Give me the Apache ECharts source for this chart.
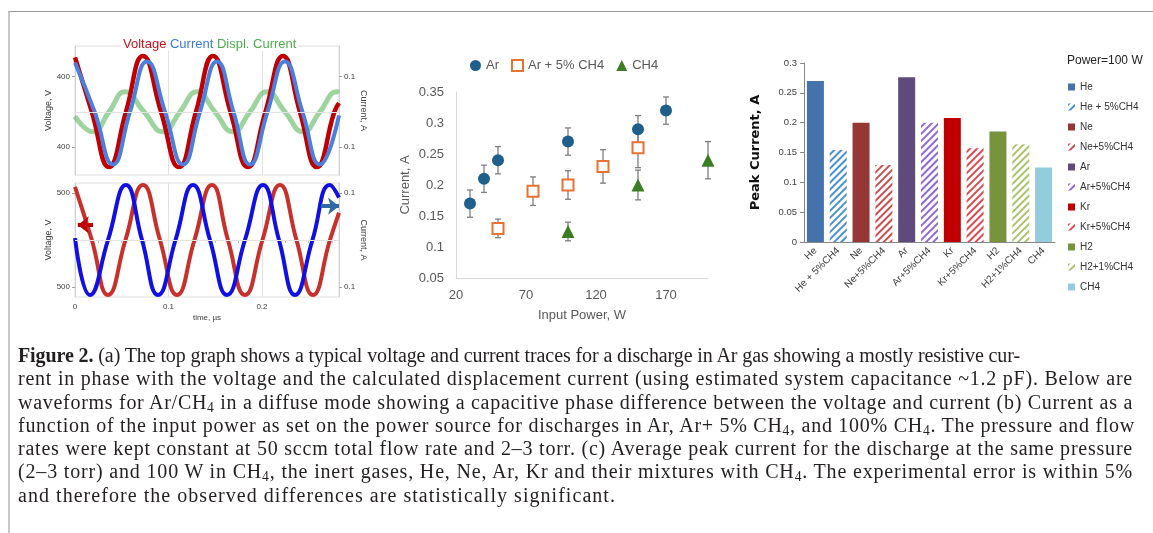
<!DOCTYPE html>
<html>
<head>
<meta charset="utf-8">
<title>Figure 2</title>
<script src="https://cdn.jsdelivr.net/npm/echarts@6.0.0/dist/echarts.min.js"></script>
<style>
html, body { margin: 0; padding: 0; background: #fff; }
#page { position: relative; width: 1153px; height: 533px; overflow: hidden; }
#chart { position: absolute; left: 0; top: 0; width: 1153px; height: 340px; }
#frame { position: absolute; left: 8px; top: 11px; width: 1145px; height: 522px; border-top: 1px solid #9a9a9a; border-left: 2px solid #c8c8c8; box-sizing: border-box; pointer-events: none; }
#caption { position: absolute; left: 18px; top: 344px; font-family: 'Liberation Serif', 'DejaVu Serif', serif; font-size: 20px; line-height: 23.3px; color: #231f20; }
#caption div { white-space: nowrap; }
#caption sub { font-size: 0.68em; vertical-align: -0.25em; line-height: 0; }
</style>
</head>
<body>
<div id="page">
  <div id="chart"></div>
  <div id="frame"></div>
  <div id="caption">
    <div data-w="1002"><span><b>Figure 2.</b> (a) The top graph shows a typical voltage and current traces for a discharge in Ar gas showing a mostly resistive cur-</span></div>
    <div data-w="1115"><span>rent in phase with the voltage and the calculated displacement current (using estimated system capacitance ~1.2 pF). Below are</span></div>
    <div data-w="1115"><span>waveforms for Ar/CH<sub>4</sub> in a diffuse mode showing a capacitive phase difference between the voltage and current (b) Current as a</span></div>
    <div data-w="1117"><span>function of the input power as set on the power source for discharges in Ar, Ar+ 5% CH<sub>4</sub>, and 100% CH<sub>4</sub>. The pressure and flow</span></div>
    <div data-w="1115"><span>rates were kept constant at 50 sccm total flow rate and 2–3 torr. (c) Average peak current for the discharge at the same pressure</span></div>
    <div data-w="1115"><span>(2–3 torr) and 100 W in CH<sub>4</sub>, the inert gases, He, Ne, Ar, Kr and their mixtures with CH<sub>4</sub>. The experimental error is within 5%</span></div>
    <div data-w="598"><span>and therefore the observed differences are statistically significant.</span></div>
  </div>
</div>
<script>
var argonVoltage = [[0, 620], [0.018, 0], [0.0364, -630], [0.0545, 0], [0.0727, 635], [0.092, 0], [0.1112, -630],
    [0.1294, 0], [0.1476, 635], [0.1663, 0], [0.185, -630], [0.2037, 0], [0.2225, 635], [0.2406, 0],
    [0.2588, -630], [0.2775, 0], [0.2824, 100]];
var argonCurrent = [[0, 0.14], [0.021, 0], [0.0406, -0.15], [0.0588, 0], [0.077, 0.143], [0.0963, 0], [0.1155, -0.15],
    [0.1337, 0], [0.1519, 0.143], [0.1695, 0], [0.1872, -0.15], [0.2059, 0], [0.2246, 0.143], [0.2433, 0],
    [0.262, -0.15], [0.2824, -0.01]];
var argonDisplCurrent = [[0, -0.013], [0.0193, -0.057], [0.0364, 0], [0.0535, 0.057], [0.0738, 0], [0.0941, -0.057],
    [0.1123, 0], [0.1305, 0.057], [0.1497, 0], [0.169, -0.057], [0.1872, 0], [0.2053, 0.057], [0.2246, 0],
    [0.2439, -0.057], [0.262, 0], [0.2802, 0.057], [0.2824, 0.056]];
var mixVoltage = [[0, 564], [0.018, 0], [0.0353, -585], [0.054, 0], [0.0727, 585], [0.0909, 0], [0.1091, -585],
    [0.1278, 0], [0.1465, 585], [0.1636, 0], [0.1818, -585], [0.2005, 0], [0.2193, 585], [0.2369, 0],
    [0.2545, -585], [0.2727, 0], [0.2824, 290]];
var mixCurrent = [[0, 0.004], [0.016, -0.117], [0.0353, 0], [0.0545, 0.117], [0.0717, 0], [0.0888, -0.117],
    [0.1075, 0], [0.1262, 0.117], [0.1444, 0], [0.1626, -0.117], [0.1818, 0], [0.2011, 0.117], [0.2182, 0],
    [0.2353, -0.117], [0.254, 0], [0.2727, 0.117], [0.2824, 0.09]];

// (b) current vs input power
var arPower = [30, 40, 50, 100, 150, 170];
var arCurrent = [0.17, 0.21, 0.24, 0.27, 0.29, 0.32];
var arErr = [0.022, 0.022, 0.022, 0.022, 0.022, 0.022];
var mixPower = [50, 75, 100, 125, 150];
var mixPeak = [0.13, 0.19, 0.2, 0.23, 0.26];
var mixErr = [0.015, 0.023, 0.023, 0.027, 0.032];
var ch4Power = [100, 150, 200];
var ch4Current = [0.125, 0.2, 0.24];
var ch4Err = [0.015, 0.024, 0.03];

// (c) peak current at 100 W
var gasNames = ['He', 'He + 5%CH4', 'Ne', 'Ne+5%CH4', 'Ar', 'Ar+5%CH4', 'Kr', 'Kr+5%CH4', 'H2', 'H2+1%CH4', 'CH4'];
var peakCurrent = [0.27, 0.154, 0.2, 0.129, 0.276, 0.2, 0.208, 0.157, 0.185, 0.164, 0.125];

var gasColors = ['#4472aa', '#4a90d4', '#953735', '#c9504f', '#604a7b', '#9466d6', '#c00000', '#dd4a4f', '#77933c', '#a9c46a', '#93cddd'];
var gasHatched = [false, true, false, true, false, true, false, true, false, true, false];

var sans = 'Liberation Sans, Arial, sans-serif';
var gridGray = '#e2e2e2';

function absLabel(v) {
    return String(Math.abs(v));
}

function errorBar(params, api) {
    var x = api.value(0);
    var top = api.coord([x, api.value(2)]);
    var bot = api.coord([x, api.value(1)]);
    var st = {stroke: '#7f7f7f', lineWidth: 1.3};
    return {
        type: 'group',
        children: [
            {type: 'line', shape: {x1: top[0], y1: top[1], x2: bot[0], y2: bot[1]}, style: st},
            {type: 'line', shape: {x1: top[0] - 3, y1: top[1], x2: top[0] + 3, y2: top[1]}, style: st},
            {type: 'line', shape: {x1: bot[0] - 3, y1: bot[1], x2: bot[0] + 3, y2: bot[1]}, style: st}
        ]
    };
}

function errData(px, py, pe) {
    return px.map(function (p, i) { return [p, py[i] - pe[i], py[i] + pe[i]]; });
}

function waveYAxis(grid, pos, min, max, name, marks) {
    return {
        gridIndex: grid, type: 'value', position: pos, min: min, max: max,
        name: name, nameLocation: 'middle', nameGap: pos === 'left' ? 22 : 8,
        nameRotate: pos === 'left' ? 90 : -90,
        nameTextStyle: {fontFamily: sans, fontSize: 9, color: '#404040'},
        axisLine: {show: true, lineStyle: {color: '#d0d0d0'}},
        axisTick: {show: true, customValues: marks, length: 3, lineStyle: {color: '#a0a0a0'}},
        axisLabel: {customValues: marks, formatter: absLabel, fontFamily: sans, fontSize: 8, color: '#404040', margin: 5},
        splitLine: {show: false}
    };
}

function waveXAxis(grid, labels) {
    return {
        gridIndex: grid, type: 'value', min: 0, max: 0.2824, interval: 0.1,
        name: labels ? 'time, µs' : '', nameLocation: 'middle', nameGap: 17,
        nameTextStyle: {fontFamily: sans, fontSize: 8, color: '#404040'},
        axisLine: {lineStyle: {color: '#d0d0d0'}},
        axisTick: {show: false},
        minorTick: {show: labels, splitNumber: 4, length: 3, lineStyle: {color: '#c0c0c0'}},
        axisLabel: {show: labels, showMaxLabel: false, fontFamily: sans, fontSize: 8, color: '#404040', margin: 6},
        splitLine: {show: true, lineStyle: {color: gridGray}}
    };
}

var barSeries = gasNames.map(function (g, i) {
    var style = gasHatched[i] ? {
        color: '#fff',
        decal: {symbol: 'rect', symbolSize: 1, dashArrayX: [1, 0], dashArrayY: [2, 2.5], rotation: -Math.PI / 4, color: gasColors[i]}
    } : {color: gasColors[i]};
    return {
        type: 'bar', name: 'c-' + g, xAxisIndex: 3, yAxisIndex: 5, stack: 'peak', barWidth: 17,
        data: gasNames.map(function (h, j) { return j === i ? peakCurrent[i] : '-'; }),
        itemStyle: style
    };
});

var option = {
    animation: false,
    textStyle: {fontFamily: sans},
    title: [
        {
            text: '{v|Voltage} {c|Current} {d|Displ. Current}',
            left: 121, top: 38, padding: [0, 2], backgroundColor: '#fff',
            textStyle: {
                fontSize: 13, fontWeight: 'normal',
                rich: {
                    v: {color: '#c0141c', fontSize: 13, fontFamily: sans},
                    c: {color: '#3c78d8', fontSize: 13, fontFamily: sans},
                    d: {color: '#4cae4c', fontSize: 13, fontFamily: sans}
                }
            }
        },
        {text: 'Power=100 W', left: 1067, top: 55, padding: 0, textStyle: {fontSize: 12, fontWeight: 'normal', color: '#222', fontFamily: sans}}
    ],
    legend: [
        {
            data: ['Ar', 'Ar + 5% CH4', 'CH4'],
            left: 470, top: 59, padding: 0, itemWidth: 11, itemHeight: 11, itemGap: 12,
            textStyle: {fontSize: 13, color: '#595959', fontFamily: sans}
        },
        {
            data: gasNames.map(function (g) { return 'c-' + g; }),
            formatter: function (n) { return n.replace(/^c-/, ''); },
            orient: 'vertical', left: 1068, top: 81, padding: 0, itemWidth: 7, itemHeight: 7, itemGap: 8,
            icon: 'rect',
            textStyle: {fontSize: 10, lineHeight: 12, color: '#333', fontFamily: sans}
        }
    ],
    grid: [
        {left: 75, top: 46, width: 264, height: 129, show: true, borderColor: '#dedede', borderWidth: 1},
        {left: 75, top: 183, width: 264, height: 114, show: true, borderColor: '#dedede', borderWidth: 1},
        {left: 456, top: 92, width: 252, height: 186},
        {left: 804, top: 63, width: 251, height: 179}
    ],
    xAxis: [
        waveXAxis(0, false),
        waveXAxis(1, true),
        {
            gridIndex: 2, type: 'value', min: 20, max: 200, interval: 50,
            name: 'Input Power, W', nameLocation: 'middle', nameGap: 31,
            nameTextStyle: {fontSize: 13, color: '#595959'},
            axisLine: {lineStyle: {color: '#d9d9d9'}}, axisTick: {show: false},
            axisLabel: {showMaxLabel: false, fontSize: 13, color: '#595959', margin: 11},
            splitLine: {show: false}
        },
        {
            gridIndex: 3, type: 'category', data: gasNames,
            axisLine: {lineStyle: {color: '#868686'}},
            axisTick: {length: 4, lineStyle: {color: '#868686'}},
            axisLabel: {rotate: 45, interval: 0, fontSize: 10, color: '#404040', margin: 7}
        }
    ],
    yAxis: [
        waveYAxis(0, 'left', -720, 750, 'Voltage, V', [-400, 400]),
        waveYAxis(0, 'right', -0.18, 0.1875, 'Current, A', [-0.1, 0.1]),
        waveYAxis(1, 'left', -606, 606, 'Voltage, V', [-500, 500]),
        waveYAxis(1, 'right', -0.1213, 0.1213, 'Current, A', [-0.1, 0.1]),
        {
            gridIndex: 2, type: 'value', min: 0.05, max: 0.35, interval: 0.05,
            name: 'Current, A', nameLocation: 'middle', nameGap: 44,
            nameTextStyle: {fontSize: 13, color: '#595959'},
            axisLine: {show: true, lineStyle: {color: '#d9d9d9'}}, axisTick: {show: false},
            axisLabel: {fontSize: 13, color: '#595959', margin: 12},
            splitLine: {show: false}
        },
        {
            gridIndex: 3, type: 'value', min: 0, max: 0.3, interval: 0.05,
            name: 'Peak Current, A', nameLocation: 'middle', nameGap: 42,
            nameTextStyle: {fontFamily: 'DejaVu Sans, sans-serif', fontWeight: 'bold', fontSize: 13, color: '#111'},
            axisLine: {show: true, lineStyle: {color: '#868686'}},
            axisTick: {show: true, length: 4, lineStyle: {color: '#868686'}},
            axisLabel: {fontSize: 9.5, color: '#404040', margin: 7},
            splitLine: {show: false}
        }
    ],
    series: [
        // zero gridlines of (a)
        {type: 'line', xAxisIndex: 0, yAxisIndex: 0, data: [], z: 1,
            markLine: {silent: true, symbol: 'none', label: {show: false}, lineStyle: {color: gridGray, width: 1, type: 'solid'}, data: [{yAxis: 0}]}},
        {type: 'line', xAxisIndex: 1, yAxisIndex: 2, data: [], z: 1,
            markLine: {silent: true, symbol: 'none', label: {show: false}, lineStyle: {color: gridGray, width: 1, type: 'solid'}, data: [{yAxis: 0}]}},
        {type: 'line', name: 'Displ. Current', xAxisIndex: 0, yAxisIndex: 1, data: argonDisplCurrent, smooth: true, symbol: 'none',
            lineStyle: {color: 'rgba(76,175,80,0.55)', width: 5}, z: 2},
        {type: 'line', name: 'Voltage', xAxisIndex: 0, yAxisIndex: 0, data: argonVoltage, smooth: true, symbol: 'none',
            lineStyle: {color: '#c00000', width: 4.5}, z: 3},
        {type: 'line', name: 'Current', xAxisIndex: 0, yAxisIndex: 1, data: argonCurrent, smooth: true, symbol: 'none',
            lineStyle: {color: '#4a7fe0', width: 4}, z: 4},
        {type: 'line', name: 'Voltage mix', xAxisIndex: 1, yAxisIndex: 2, data: mixVoltage, smooth: true, symbol: 'none',
            lineStyle: {color: '#c8302c', width: 4}, z: 3,
            markLine: {silent: true, symbol: ['none', 'arrow'], symbolSize: [13, 11], label: {show: false},
                lineStyle: {color: '#c00000', width: 4, type: 'solid'},
                data: [[{coord: [0.0193, 160]}, {coord: [0.003, 160]}]]}},
        {type: 'line', name: 'Current mix', xAxisIndex: 1, yAxisIndex: 3, data: mixCurrent, smooth: true, symbol: 'none',
            lineStyle: {color: '#1010e6', width: 4}, z: 4,
            markLine: {silent: true, symbol: ['none', 'arrow'], symbolSize: [13, 11], label: {show: false},
                lineStyle: {color: '#2f6aa3', width: 4, type: 'solid'},
                data: [[{coord: [0.263, 0.072]}, {coord: [0.2824, 0.072]}]]}},

        // (b)
        {type: 'custom', xAxisIndex: 2, yAxisIndex: 4, renderItem: errorBar, data: errData(arPower, arCurrent, arErr), encode: {x: 0, y: [1, 2]}, z: 1},
        {type: 'custom', xAxisIndex: 2, yAxisIndex: 4, renderItem: errorBar, data: errData(mixPower, mixPeak, mixErr), encode: {x: 0, y: [1, 2]}, z: 1},
        {type: 'custom', xAxisIndex: 2, yAxisIndex: 4, renderItem: errorBar, data: errData(ch4Power, ch4Current, ch4Err), encode: {x: 0, y: [1, 2]}, z: 1},
        {type: 'scatter', name: 'Ar', xAxisIndex: 2, yAxisIndex: 4, symbol: 'circle', symbolSize: 12,
            data: arPower.map(function (p, i) { return [p, arCurrent[i]]; }), itemStyle: {color: '#1f5f8b', opacity: 1}, z: 3},
        {type: 'scatter', name: 'Ar + 5% CH4', xAxisIndex: 2, yAxisIndex: 4, symbol: 'rect', symbolSize: 11,
            data: mixPower.map(function (p, i) { return [p, mixPeak[i]]; }),
            itemStyle: {color: '#fff', borderColor: '#e97132', borderWidth: 2, opacity: 1}, z: 3},
        {type: 'scatter', name: 'CH4', xAxisIndex: 2, yAxisIndex: 4, symbol: 'triangle', symbolSize: 13,
            data: ch4Power.map(function (p, i) { return [p, ch4Current[i]]; }), itemStyle: {color: '#3b7d23', opacity: 1}, z: 3}
    ].concat(barSeries)
};

var chart = echarts.init(document.getElementById('chart'));
chart.setOption(option);

// stretch each caption line to the width it has in the printed figure
var lines = document.querySelectorAll('#caption div');
for (var k = 0; k < lines.length; k++) {
    var span = lines[k].firstElementChild;
    var target = +lines[k].getAttribute('data-w');
    var natural = span.getBoundingClientRect().width;
    span.style.letterSpacing = ((target - natural) / span.textContent.length) + 'px';
}
</script>
</body>
</html>
